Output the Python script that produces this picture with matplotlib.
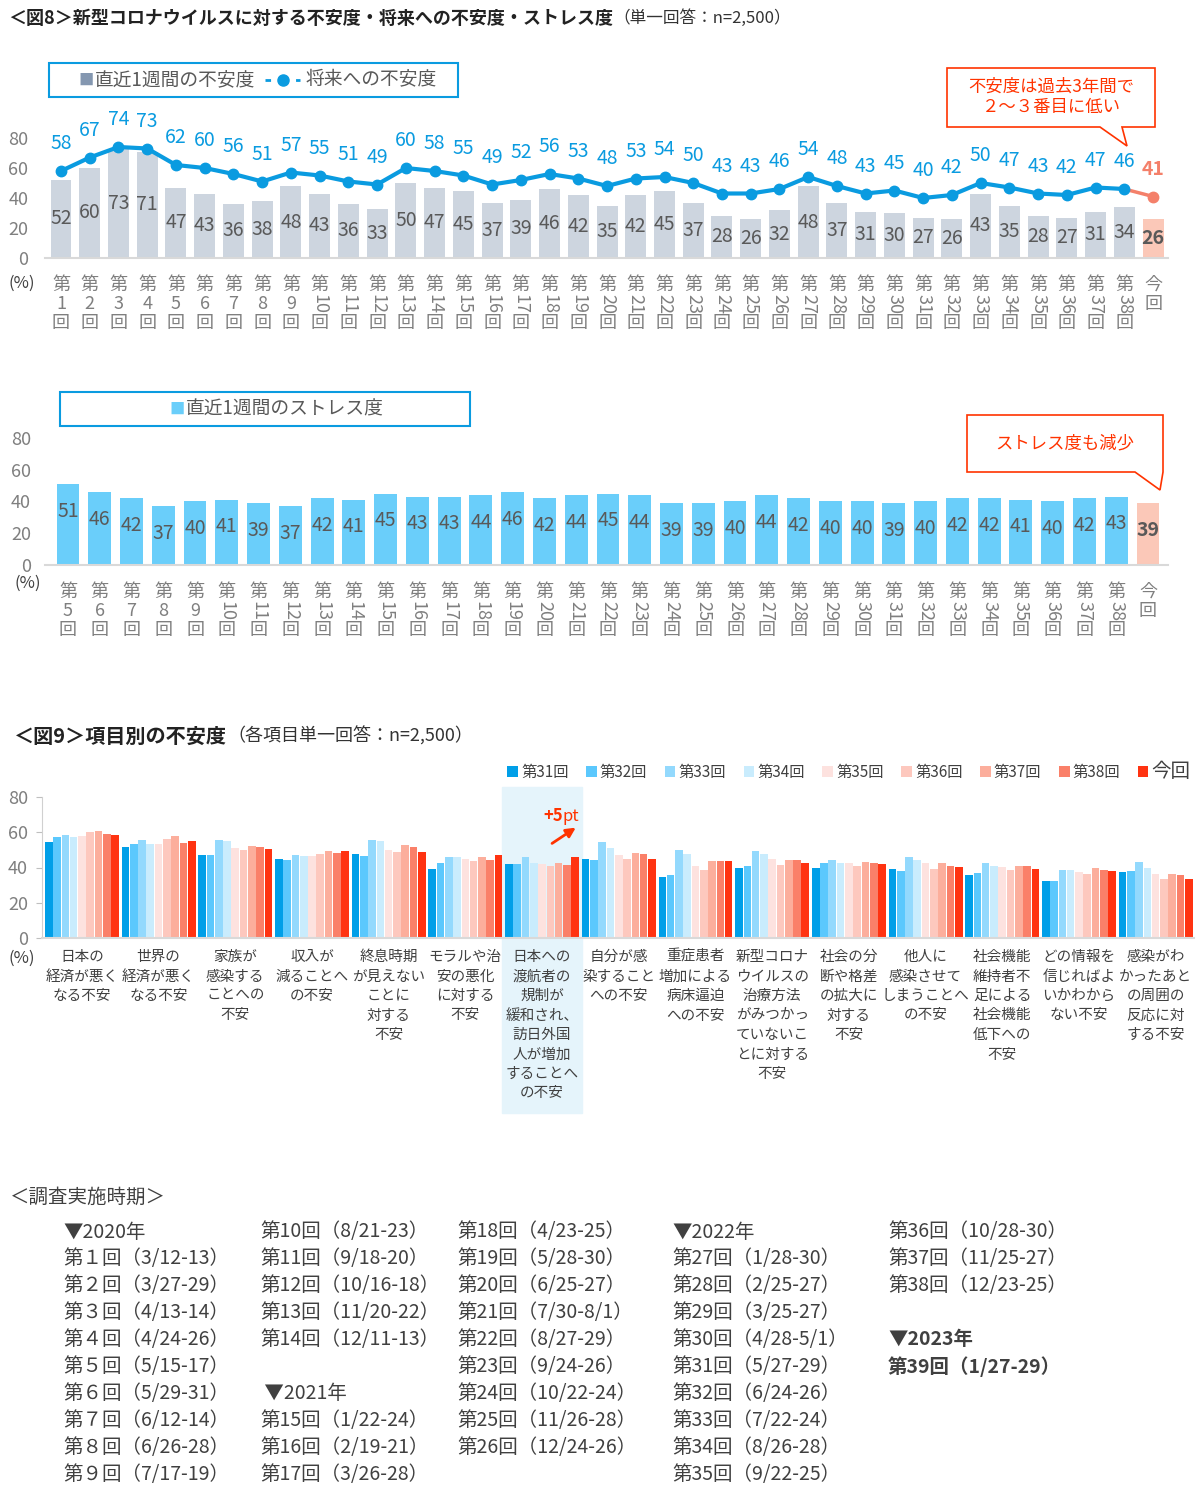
import matplotlib
matplotlib.use('Agg')
import matplotlib.pyplot as plt
from matplotlib.patches import Rectangle, Polygon

plt.rcParams['font.family'] = ['Noto Sans CJK JP', 'DejaVu Sans']

W, H = 1200, 1499

# ---- 図8 data
top_rounds = [str(i) for i in range(1, 39)] + ['今回']
anxiety_week = [52, 60, 73, 71, 47, 43, 36, 38, 48, 43,
                36, 33, 50, 47, 45, 37, 39, 46, 42, 35,
                42, 45, 37, 28, 26, 32, 48, 37, 31, 30,
                27, 26, 43, 35, 28, 27, 31, 34, 26]
anxiety_future = [58, 67, 74, 73, 62, 60, 56, 51, 57, 55,
                  51, 49, 60, 58, 55, 49, 52, 56, 53, 48,
                  53, 54, 50, 43, 43, 46, 54, 48, 43, 45,
                  40, 42, 50, 47, 43, 42, 47, 46, 41]
stress_rounds = [str(i) for i in range(5, 39)] + ['今回']
stress_week = [51, 46, 42, 37, 40, 41, 39, 37, 42, 41,
               45, 43, 43, 44, 46, 42, 44, 45, 44, 39,
               39, 40, 44, 42, 40, 40, 39, 40, 42, 42,
               41, 40, 42, 43, 39]

# ---- 図9 data
categories = [
    '日本の\n経済が悪く\nなる不安',
    '世界の\n経済が悪く\nなる不安',
    '家族が\n感染する\nことへの\n不安',
    '収入が\n減ることへ\nの不安',
    '終息時期\nが見えない\nことに\n対する\n不安',
    'モラルや治\n安の悪化\nに対する\n不安',
    '日本への\n渡航者の\n規制が\n緩和され、\n訪日外国\n人が増加\nすることへ\nの不安',
    '自分が感\n染すること\nへの不安',
    '重症患者\n増加による\n病床逼迫\nへの不安',
    '新型コロナ\nウイルスの\n治療方法\nがみつかっ\nていないこ\nとに対する\n不安',
    '社会の分\n断や格差\nの拡大に\n対する\n不安',
    '他人に\n感染させて\nしまうことへ\nの不安',
    '社会機能\n維持者不\n足による\n社会機能\n低下への\n不安',
    'どの情報を\n信じればよ\nいかわから\nない不安',
    '感染がわ\nかったあと\nの周囲の\n反応に対\nする不安',
]
round_names = ['第31回', '第32回', '第33回', '第34回', '第35回', '第36回', '第37回', '第38回', '今回']
r31 = [54.5, 51.7, 47.2, 45.1, 47.7, 39.4, 41.9, 44.9, 34.7, 39.8, 39.6, 39.1, 35.7, 32.3, 37.2]
r32 = [57.4, 53.4, 47.2, 44.0, 46.4, 42.5, 41.9, 44.0, 35.7, 40.8, 42.3, 37.9, 37.0, 32.5, 37.9]
r33 = [58.5, 55.5, 55.5, 47.2, 55.7, 46.2, 45.7, 54.2, 49.8, 49.2, 44.2, 45.8, 42.5, 38.5, 43.4]
r34 = [57.4, 53.2, 55.1, 46.8, 55.1, 45.8, 42.6, 50.9, 47.9, 47.5, 42.8, 44.2, 41.1, 38.5, 39.8]
r35 = [57.9, 53.4, 50.8, 46.8, 50.0, 44.7, 41.9, 47.2, 41.1, 45.1, 42.8, 42.8, 40.4, 37.5, 36.4]
r36 = [60.2, 56.4, 50.0, 47.5, 48.7, 43.8, 40.8, 44.7, 38.3, 41.5, 40.9, 39.1, 38.3, 36.4, 33.6]
r37 = [60.8, 57.7, 52.3, 49.2, 52.6, 46.2, 42.8, 48.1, 43.6, 44.3, 43.4, 42.6, 40.8, 40.0, 36.4]
r38 = [59.1, 53.8, 51.5, 48.1, 51.5, 44.0, 41.3, 47.5, 43.6, 44.2, 42.6, 40.9, 40.9, 38.3, 35.8]
r39 = [58.7, 54.9, 50.4, 49.2, 48.9, 47.0, 46.2, 44.9, 43.6, 42.8, 42.1, 40.2, 39.2, 37.9, 33.2]
series = [r31, r32, r33, r34, r35, r36, r37, r38, r39]
fig9_colors = ['#009FE8', '#5BC8FD', '#93D9FD', '#C9ECFD', '#FDE2DF',
               '#FDC8BE', '#FCAE9C', '#FA8069', '#FF3311']

# ---- 調査実施時期
col1 = ['▼2020年', '第１回（3/12-13）', '第２回（3/27-29）', '第３回（4/13-14）', '第４回（4/24-26）',
        '第５回（5/15-17）', '第６回（5/29-31）', '第７回（6/12-14）', '第８回（6/26-28）', '第９回（7/17-19）']
col2 = ['第10回（8/21-23）', '第11回（9/18-20）', '第12回（10/16-18）', '第13回（11/20-22）', '第14回（12/11-13）',
        '', ' ▼2021年', '第15回（1/22-24）', '第16回（2/19-21）', '第17回（3/26-28）']
col3 = ['第18回（4/23-25）', '第19回（5/28-30）', '第20回（6/25-27）', '第21回（7/30-8/1）', '第22回（8/27-29）',
        '第23回（9/24-26）', '第24回（10/22-24）', '第25回（11/26-28）', '第26回（12/24-26）', '']
col4 = ['▼2022年', '第27回（1/28-30）', '第28回（2/25-27）', '第29回（3/25-27）', '第30回（4/28-5/1）',
        '第31回（5/27-29）', '第32回（6/24-26）', '第33回（7/22-24）', '第34回（8/26-28）', '第35回（9/22-25）']
col5 = ['第36回（10/28-30）', '第37回（11/25-27）', '第38回（12/23-25）', '', '▼2023年', '第39回（1/27-29）']
col_x = [63, 260, 457, 672, 888]

GRAY = '#7F7F7F'
TXT = '#595959'
DARK = '#404040'
BLUE = '#0A9BE0'
SALMON = '#F4806A'
RED = '#FF3300'

fig = plt.figure(figsize=(W / 100, H / 100), dpi=100)
bg = fig.add_axes([0, 0, 1, 1])
bg.set_xlim(0, W)
bg.set_ylim(H, 0)
bg.axis('off')


def px_axes(x0, y0, x1, y1):
    ax = fig.add_axes([x0 / W, 1 - y1 / H, (x1 - x0) / W, (y1 - y0) / H])
    ax.set_facecolor('none')
    return ax


def pt(px):
    return px * 0.72


def style_axis(ax, pad):
    ax.set_ylim(0, 80)
    ax.set_yticks([0, 20, 40, 60, 80])
    ax.tick_params(axis='y', length=0, labelsize=13, labelcolor=GRAY, pad=pad)
    ax.set_xticks([])
    for s in ['top', 'right', 'left']:
        ax.spines[s].set_visible(False)
    ax.spines['bottom'].set_color('#D9D9D9')
    ax.spines['bottom'].set_linewidth(1.5)


def round_labels(ax, labels, dy_first, step):
    for i, lab in enumerate(labels):
        if lab == '今回':
            parts = [('今', 0), ('回', 0)]
        else:
            parts = [('第', 0), (lab, -90 if len(lab) > 1 else 0), ('回', 0)]
        for k, (s, rot) in enumerate(parts):
            ax.annotate(s, (i, 0), xytext=(0, -pt(dy_first + k * step)), textcoords='offset points',
                        ha='center', va='center', rotation=rot, fontsize=13, color=GRAY,
                        annotation_clip=False)


def callout(pts, text, cx, cy):
    bg.add_patch(Polygon(pts, closed=True, facecolor='white', edgecolor=RED, lw=1.2))
    bg.text(cx, cy, text, ha='center', va='center', fontsize=12.5, color=RED, linespacing=1.2)


# ---- titles
t1 = bg.text(8, 18, '＜図8＞新型コロナウイルスに対する不安度・将来への不安度・ストレス度',
             ha='left', va='center', fontsize=13, fontweight='bold', color='#222222')
bg.annotate('（単一回答：n=2,500）', xy=(1, 0.5), xycoords=t1, ha='left', va='center',
            fontsize=12, color='#333333')
t9 = bg.text(14, 736, '＜図9＞項目別の不安度', ha='left', va='center', fontsize=14.5,
             fontweight='bold', color='#222222')
bg.annotate('（各項目単一回答：n=2,500）', xy=(1, 0.5), xycoords=t9, ha='left', va='center',
            fontsize=13, color='#333333')

# ---- chart 1: 不安度
ax1 = px_axes(45, 138, 1168, 258)
n1 = len(top_rounds)
x1 = list(range(n1))
ax1.bar(x1, anxiety_week, width=0.73, color=['#CDD5DF'] * (n1 - 1) + ['#FBC8B8'], zorder=1)
for i, v in enumerate(anxiety_week):
    ax1.text(i, v / 2, str(v), ha='center', va='center', fontsize=14, color=TXT,
             fontweight='bold' if i == n1 - 1 else 'normal', zorder=4)
ax1.plot(x1[:-1], anxiety_future[:-1], color=BLUE, lw=3, marker='o', ms=7.5, zorder=3)
ax1.plot(x1[-2:], anxiety_future[-2:], color=SALMON, lw=2.5, zorder=2)
ax1.plot(x1[-1:], anxiety_future[-1:], 'o', color=SALMON, ms=7.5, zorder=3)
for i, v in enumerate(anxiety_future):
    last = i == n1 - 1
    ax1.annotate(str(v), (i, v), xytext=(0, 19.5), textcoords='offset points', ha='center',
                 va='center', fontsize=14, color=SALMON if last else BLUE,
                 fontweight='bold' if last else 'normal', annotation_clip=False)
ax1.set_xlim(-0.557, 38.52)
style_axis(ax1, 12)
round_labels(ax1, top_rounds, 27, 19)
bg.text(22, 283, '(%)', ha='center', va='center', fontsize=12, color=DARK)

# legend box 1
bg.add_patch(Rectangle((49, 63), 409, 34, facecolor='white', edgecolor=BLUE, lw=1.5))
bg.text(86, 80, '■', ha='center', va='center', fontsize=11, color='#8497B0')
bg.text(95, 80, '直近1週間の不安度', ha='left', va='center', fontsize=13.5, color=TXT)
bg.plot([265, 300], [80, 80], color=BLUE, lw=2, ls=(0, (2, 3.5)))
bg.plot([283], [80], 'o', color=BLUE, ms=8)
bg.text(306, 80, '将来への不安度', ha='left', va='center', fontsize=13.5, color=TXT)

callout([(947, 68), (1155, 68), (1155, 127), (1122, 127), (1127, 146), (1100, 127), (947, 127)],
        '不安度は過去3年間で\n２～３番目に低い', 1051, 97)

# ---- chart 2: ストレス度
ax2 = px_axes(45, 438, 1168, 565)
n2 = len(stress_rounds)
x2 = list(range(n2))
ax2.bar(x2, stress_week, width=0.72, color=['#6ACEFA'] * (n2 - 1) + ['#FBC8B8'])
for i, v in enumerate(stress_week):
    ax2.annotate(str(v), (i, v), xytext=(0, -19.5), textcoords='offset points', ha='center',
                 va='center', fontsize=14, color=TXT, fontweight='bold' if i == n2 - 1 else 'normal')
ax2.set_xlim(-0.724, 34.63)
style_axis(ax2, 10)
round_labels(ax2, stress_rounds, 27, 19)
bg.text(28, 583, '(%)', ha='center', va='center', fontsize=12, color=DARK)

bg.add_patch(Rectangle((60, 392), 410, 34, facecolor='white', edgecolor=BLUE, lw=1.5))
bg.text(177, 409, '■', ha='center', va='center', fontsize=11, color='#6ACEFA')
bg.text(186, 409, '直近1週間のストレス度', ha='left', va='center', fontsize=13.5, color=TXT)

callout([(967, 415), (1163, 415), (1163, 472), (1160, 490), (1135, 472), (967, 472)],
        'ストレス度も減少', 1065, 443)

# ---- 図9
ax9 = px_axes(42, 797, 1194, 938)
bw = 0.108
ncat = len(categories)
for j, (vals, col, name) in enumerate(zip(series, fig9_colors, round_names)):
    xs = [i + (j - 4) * bw for i in range(ncat)]
    ax9.bar(xs, vals, width=bw * 0.92, color=col, label=name, zorder=2)
ax9.set_xlim(-0.52, 14.5)
ax9.set_ylim(0, 80)
ax9.set_yticks([0, 20, 40, 60, 80])
ax9.tick_params(axis='y', length=4, color='#BFBFBF', labelsize=13, labelcolor=GRAY, pad=6)
ax9.set_xticks([])
for s in ['top', 'right']:
    ax9.spines[s].set_visible(False)
ax9.spines['left'].set_color('#D0D0D0')
ax9.spines['bottom'].set_color('#D9D9D9')
ax9.spines['bottom'].set_linewidth(1.5)
ax9.axvspan(5.48, 6.52, ymin=-1.241, ymax=1.071, color='#E5F4FB', zorder=0, clip_on=False)
for i, lab in enumerate(categories):
    ax9.annotate(lab, (i, 0), xytext=(0, -pt(12)), textcoords='offset points', ha='center', va='top',
                 multialignment='center', fontsize=10.5, color=DARK, linespacing=1.5,
                 annotation_clip=False)
ax9.text(6.27, 69.2, '+5', ha='right', va='center', fontsize=12, fontweight='bold', color=RED)
ax9.text(6.27, 69.2, 'pt', ha='left', va='center', fontsize=12, color=RED)
ax9.annotate('', xy=(6.47, 63.5), xytext=(6.10, 52.8),
             arrowprops=dict(arrowstyle='-|>', color=RED, lw=2, mutation_scale=14))
leg = ax9.legend(loc='center right', bbox_to_anchor=(0.997, 1.184), ncol=9, frameon=False,
                 fontsize=11, handlelength=0.7, handleheight=0.7, handletextpad=0.2,
                 columnspacing=1.15, borderaxespad=0, borderpad=0)
for t in leg.get_texts():
    t.set_color(DARK)
leg.get_texts()[-1].set_fontsize(14)
bg.text(22, 958, '(%)', ha='center', va='center', fontsize=12, color=DARK)

# ---- 調査実施時期
bg.text(10, 1197, '＜調査実施時期＞', ha='left', va='center', fontsize=14, color=DARK)
for cx, col in zip(col_x, [col1, col2, col3, col4, col5]):
    for r, s in enumerate(col):
        bold = cx == col_x[-1] and r >= 4
        bg.text(cx, 1232 + r * 26.9, s, ha='left', va='center', fontsize=14, color=DARK,
                fontweight='bold' if bold else 'normal')

fig.savefig('out.png', dpi=100)
